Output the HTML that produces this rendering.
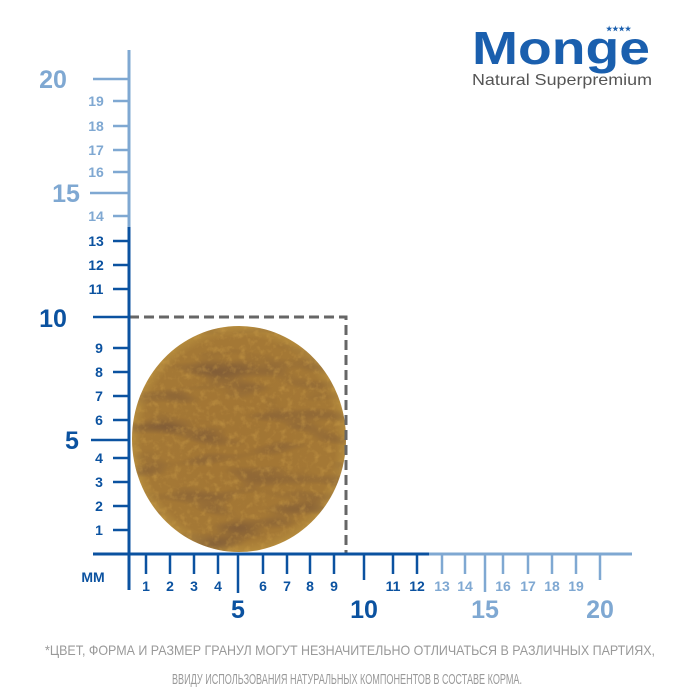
<!DOCTYPE html>
<html><head><meta charset="utf-8"><style>
html,body{margin:0;padding:0;background:#fff;width:700px;height:700px;overflow:hidden}
svg{display:block}
</style></head><body>
<svg width="700" height="700" viewBox="0 0 700 700" xmlns="http://www.w3.org/2000/svg" font-family="Liberation Sans, Arial, sans-serif" font-weight="bold">
<defs>
<radialGradient id="kg" cx="50%" cy="50%" r="50%">
<stop offset="0" stop-color="#a27534"/>
<stop offset="0.9" stop-color="#a47835"/>
<stop offset="1" stop-color="#b48a3c"/>
</radialGradient>
<clipPath id="kc"><ellipse cx="239" cy="439" rx="107" ry="113"/></clipPath>
<filter id="tex" x="0" y="0" width="100%" height="100%" color-interpolation-filters="sRGB">
<feTurbulence type="fractalNoise" baseFrequency="0.15" numOctaves="3" seed="4" result="n"/>
<feColorMatrix in="n" type="matrix" values="0 0 0 0 0.8  0 0 0 0 0.62  0 0 0 0 0.28  1.2 0 0 0 -0.6"/>
</filter>
<filter id="tex2" x="0" y="0" width="100%" height="100%" color-interpolation-filters="sRGB">
<feTurbulence type="fractalNoise" baseFrequency="0.015 0.045" numOctaves="2" seed="9" result="n"/>
<feColorMatrix in="n" type="matrix" values="0 0 0 0 0.45  0 0 0 0 0.32  0 0 0 0 0.22  2.0 0 0 0 -0.95"/>
</filter>
</defs>
<text x="472" y="64" font-size="46" fill="#1a5fae" font-weight="bold" textLength="178" lengthAdjust="spacingAndGlyphs">Monge</text>
<text x="606" y="31" font-size="7" fill="#1a5fae">★★★★</text>
<text x="472" y="85" font-size="16" font-weight="normal" fill="#555" textLength="180" lengthAdjust="spacingAndGlyphs">Natural Superpremium</text>

<ellipse cx="239" cy="439" rx="107" ry="113" fill="url(#kg)"/>
<g clip-path="url(#kc)">
<rect x="130" y="324" width="220" height="230" filter="url(#tex2)"/>
<rect x="130" y="324" width="220" height="230" filter="url(#tex)"/>
</g>
<path d="M129 317 H346 V554" fill="none" stroke="#666" stroke-width="3" stroke-dasharray="10 5"/>

<g stroke-width="3" fill="none">
<line x1="129" y1="50" x2="129" y2="227" stroke="#7fa8d2"/>
<line x1="129" y1="227" x2="129" y2="590" stroke="#0b52a0"/>
<line x1="93" y1="554" x2="429" y2="554" stroke="#0b52a0"/>
<line x1="429" y1="554" x2="632" y2="554" stroke="#7fa8d2"/>
</g>
<g stroke-width="2.5">
<g stroke="#0b52a0">
<line x1="113" y1="530" x2="129" y2="530"/><line x1="113" y1="506" x2="129" y2="506"/>
<line x1="113" y1="482" x2="129" y2="482"/><line x1="113" y1="458" x2="129" y2="458"/>
<line x1="91" y1="440" x2="129" y2="440"/>
<line x1="113" y1="420" x2="129" y2="420"/><line x1="113" y1="396" x2="129" y2="396"/>
<line x1="113" y1="372" x2="129" y2="372"/><line x1="113" y1="348" x2="129" y2="348"/>
<line x1="93" y1="317" x2="129" y2="317"/>
<line x1="113" y1="289" x2="129" y2="289"/><line x1="113" y1="265" x2="129" y2="265"/>
<line x1="113" y1="241" x2="129" y2="241"/>
</g>
<g stroke="#7fa8d2">
<line x1="113" y1="216" x2="129" y2="216"/><line x1="90" y1="193" x2="129" y2="193"/>
<line x1="113" y1="172" x2="129" y2="172"/><line x1="113" y1="150" x2="129" y2="150"/>
<line x1="113" y1="126" x2="129" y2="126"/><line x1="113" y1="101" x2="129" y2="101"/>
<line x1="93" y1="79" x2="129" y2="79"/>
</g>
<g stroke="#0b52a0">
<line x1="146" y1="554" x2="146" y2="574"/><line x1="170" y1="554" x2="170" y2="574"/>
<line x1="194" y1="554" x2="194" y2="574"/><line x1="218" y1="554" x2="218" y2="574"/>
<line x1="238" y1="554" x2="238" y2="593"/>
<line x1="263" y1="554" x2="263" y2="574"/><line x1="287" y1="554" x2="287" y2="574"/>
<line x1="310" y1="554" x2="310" y2="574"/><line x1="334" y1="554" x2="334" y2="574"/>
<line x1="364" y1="554" x2="364" y2="580"/>
<line x1="393" y1="554" x2="393" y2="574"/><line x1="417" y1="554" x2="417" y2="574"/>
</g>
<g stroke="#7fa8d2">
<line x1="442" y1="554" x2="442" y2="574"/><line x1="465" y1="554" x2="465" y2="574"/>
<line x1="485" y1="554" x2="485" y2="592"/>
<line x1="503" y1="554" x2="503" y2="574"/><line x1="528" y1="554" x2="528" y2="574"/>
<line x1="552" y1="554" x2="552" y2="574"/><line x1="576" y1="554" x2="576" y2="574"/>
<line x1="600" y1="554" x2="600" y2="580"/>
</g>
</g>

<g fill="#0b52a0" font-size="14" text-anchor="middle">
<text x="99" y="535">1</text><text x="99" y="511">2</text><text x="99" y="487">3</text><text x="99" y="463">4</text>
<text x="99" y="425">6</text><text x="99" y="401">7</text><text x="99" y="377">8</text><text x="99" y="353">9</text>
<text x="96" y="294">11</text><text x="96" y="270">12</text><text x="96" y="246">13</text>
</g>
<g fill="#0b52a0" font-size="25" text-anchor="middle">
<text x="72" y="449">5</text><text x="53" y="327">10</text>
</g>
<g fill="#7fa8d2" font-size="14" text-anchor="middle">
<text x="96" y="221">14</text><text x="96" y="177">16</text><text x="96" y="155">17</text><text x="96" y="131">18</text><text x="96" y="106">19</text>
</g>
<g fill="#7fa8d2" font-size="25" text-anchor="middle">
<text x="66" y="202">15</text><text x="53" y="88">20</text>
</g>
<text x="93" y="582" font-size="14" fill="#0b52a0" text-anchor="middle">MM</text>
<g fill="#0b52a0" font-size="14" text-anchor="middle">
<text x="146" y="591">1</text><text x="170" y="591">2</text><text x="194" y="591">3</text><text x="218" y="591">4</text>
<text x="263" y="591">6</text><text x="287" y="591">7</text><text x="310" y="591">8</text><text x="334" y="591">9</text>
<text x="393" y="591">11</text><text x="417" y="591">12</text>
</g>
<g fill="#7fa8d2" font-size="14" text-anchor="middle">
<text x="442" y="591">13</text><text x="465" y="591">14</text>
<text x="503" y="591">16</text><text x="528" y="591">17</text><text x="552" y="591">18</text><text x="576" y="591">19</text>
</g>
<g font-size="25" text-anchor="middle">
<text x="238" y="618" fill="#0b52a0">5</text>
<text x="364" y="618" fill="#0b52a0">10</text>
<text x="485" y="618" fill="#7fa8d2">15</text>
<text x="600" y="618" fill="#7fa8d2">20</text>
</g>
<g fill="#999" font-weight="normal" text-anchor="middle">
<text x="350" y="655" font-size="14" textLength="610" lengthAdjust="spacingAndGlyphs">*ЦВЕТ, ФОРМА И РАЗМЕР ГРАНУЛ МОГУТ НЕЗНАЧИТЕЛЬНО ОТЛИЧАТЬСЯ В РАЗЛИЧНЫХ ПАРТИЯХ,</text>
<text x="347" y="684" font-size="15" textLength="350" lengthAdjust="spacingAndGlyphs">ВВИДУ ИСПОЛЬЗОВАНИЯ НАТУРАЛЬНЫХ КОМПОНЕНТОВ В СОСТАВЕ КОРМА.</text>
</g>
</svg>
</body></html>
